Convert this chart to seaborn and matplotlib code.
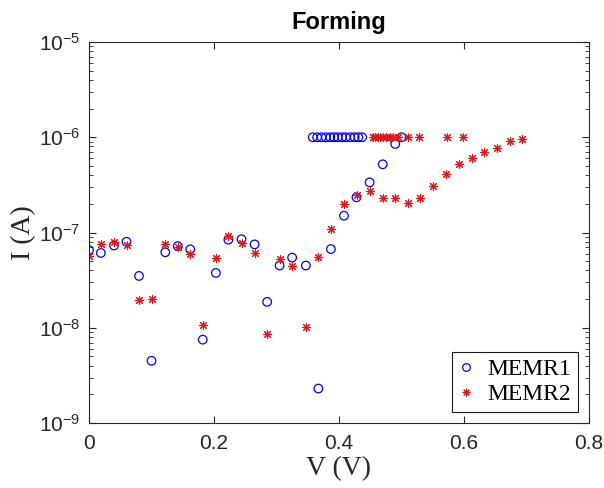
import math
import matplotlib
matplotlib.use("Agg")
import matplotlib.pyplot as plt
import seaborn as sns
import pandas as pd
from matplotlib.lines import Line2D
from matplotlib.ticker import FixedLocator, LogLocator, NullFormatter, FuncFormatter

# ---- data ----
memr1_v = [0.000, 0.019, 0.040, 0.060, 0.080, 0.100, 0.122, 0.142, 0.162, 0.182,
           0.203, 0.223, 0.244, 0.265, 0.285, 0.305, 0.325, 0.347, 0.367, 0.387,
           0.408, 0.428, 0.449, 0.470, 0.490, 0.500,
           0.358, 0.365, 0.372, 0.379, 0.386, 0.392, 0.398, 0.405, 0.411, 0.418,
           0.425, 0.431, 0.437]
memr1_i = [6.55e-8, 6.1e-8, 7.3e-8, 8.0e-8, 3.5e-8, 4.5e-9, 6.2e-8, 7.2e-8, 6.65e-8, 7.5e-9,
           3.76e-8, 8.4e-8, 8.5e-8, 7.5e-8, 1.87e-8, 4.5e-8, 5.45e-8, 4.5e-8, 2.3e-9, 6.7e-8,
           1.5e-7, 2.34e-7, 3.36e-7, 5.2e-7, 8.5e-7, 1.0e-6,
           1.0e-6, 1.0e-6, 1.0e-6, 1.0e-6, 1.0e-6, 1.0e-6, 1.0e-6, 1.0e-6, 1.0e-6, 1.0e-6,
           1.0e-6, 1.0e-6, 1.0e-6]

memr2_v = [0.000, 0.019, 0.040, 0.060, 0.080, 0.100, 0.122, 0.142, 0.162, 0.182,
           0.203, 0.223, 0.244, 0.265, 0.285, 0.305, 0.325, 0.347, 0.367, 0.387,
           0.408, 0.428, 0.449, 0.470, 0.490, 0.510, 0.530, 0.551, 0.571, 0.592,
           0.612, 0.632, 0.653, 0.674, 0.693,
           0.454, 0.458, 0.462, 0.466, 0.470, 0.475, 0.481, 0.487, 0.494, 0.510,
           0.528, 0.573, 0.598]
memr2_i = [5.7e-8, 7.6e-8, 7.9e-8, 7.4e-8, 1.95e-8, 1.99e-8, 7.5e-8, 7.0e-8, 6.0e-8, 1.06e-8,
           5.4e-8, 9.3e-8, 7.8e-8, 6.1e-8, 8.7e-9, 5.3e-8, 4.5e-8, 1.02e-8, 5.5e-8, 1.1e-7,
           1.97e-7, 2.47e-7, 2.72e-7, 2.29e-7, 2.29e-7, 2.05e-7, 2.29e-7, 3.08e-7, 4.12e-7, 5.27e-7,
           6.05e-7, 7.05e-7, 7.65e-7, 9.1e-7, 9.6e-7,
           1.0e-6, 1.0e-6, 1.0e-6, 1.0e-6, 1.0e-6, 1.0e-6, 1.0e-6, 1.0e-6, 1.0e-6, 1.0e-6,
           1.0e-6, 1.0e-6, 1.0e-6]

series_names = ["MEMR1", "MEMR2"]
x_ticks = [0, 0.2, 0.4, 0.6, 0.8]
y_ticks = [1e-9, 1e-8, 1e-7, 1e-6, 1e-5]

# ---- style ----
sns.set_style("white")
plt.rcParams["font.family"] = ["Liberation Sans", "DejaVu Sans"]
plt.rcParams["mathtext.default"] = "regular"

fig = plt.figure(figsize=(6.04, 4.88), dpi=100)
ax = fig.add_axes([89/604, 1-423/488, 500/604, 381/488])

df1 = pd.DataFrame({"V": memr1_v, "I": memr1_i})
df2 = pd.DataFrame({"V": memr2_v, "I": memr2_i})

blue = (0.0, 0.0, 1.0)
red = (0.9, 0.08, 0.08)
star = (8, 2, 0)

sns.scatterplot(data=df1, x="V", y="I", ax=ax, marker="o", s=38,
                facecolors="none", edgecolor=blue, linewidth=0.9, legend=False)
sns.scatterplot(data=df2, x="V", y="I", ax=ax, marker=star, s=34,
                color=red, linewidth=0.8, legend=False)

ax.set_yscale("log")
ax.set_xlim(0, 0.8)
ax.set_ylim(1e-9, 1e-5)
ax.xaxis.set_major_locator(FixedLocator(x_ticks))
ax.xaxis.set_major_formatter(FuncFormatter(lambda v, p: "%g" % v))
ax.yaxis.set_major_locator(FixedLocator(y_ticks))
ax.yaxis.set_major_formatter(FuncFormatter(lambda v, p: "10$^{%d}$" % round(math.log10(v))))
ax.yaxis.set_minor_locator(LogLocator(base=10, subs=range(2, 10), numticks=20))
ax.yaxis.set_minor_formatter(NullFormatter())

spine_col = (0.15, 0.15, 0.15)
for s in ax.spines.values():
    s.set_color(spine_col)
    s.set_linewidth(0.8)
ax.tick_params(axis="both", which="both", direction="in", top=True, right=True,
               bottom=True, left=True,
               color=spine_col, labelsize=15, labelcolor=(0.15, 0.15, 0.15))
ax.tick_params(which="major", length=5, width=0.8)
ax.tick_params(which="minor", length=3, width=0.6)
ax.tick_params(axis="x", pad=8)
ax.tick_params(axis="y", pad=6)

ax.set_xlabel("V (V)", family=["Liberation Serif"], fontsize=20, labelpad=2, color=(0.15, 0.15, 0.15))
ax.set_ylabel("I (A)", family=["Liberation Serif"], fontsize=20, labelpad=2, color=(0.15, 0.15, 0.15))
ax.set_title("Forming", fontsize=17, fontweight="bold", pad=9, color="black")

handles = [
    Line2D([], [], marker="o", linestyle="none", markerfacecolor="none",
           markeredgecolor=blue, markersize=5.5, markeredgewidth=0.9),
    Line2D([], [], marker=star, linestyle="none", color=red,
           markersize=5.5, markeredgewidth=0.8),
]
leg = ax.legend(handles, series_names, loc="lower right", fancybox=False,
                frameon=True, edgecolor=(0.1, 0.1, 0.1), framealpha=1,
                prop={"family": "Liberation Serif", "size": 17},
                handlelength=0.6, handletextpad=0.6, borderpad=0.3,
                labelspacing=0.15, borderaxespad=0.45)
for t in leg.get_texts():
    t.set_color("black")
leg.get_frame().set_linewidth(0.8)

fig.savefig("out.png", dpi=100)
